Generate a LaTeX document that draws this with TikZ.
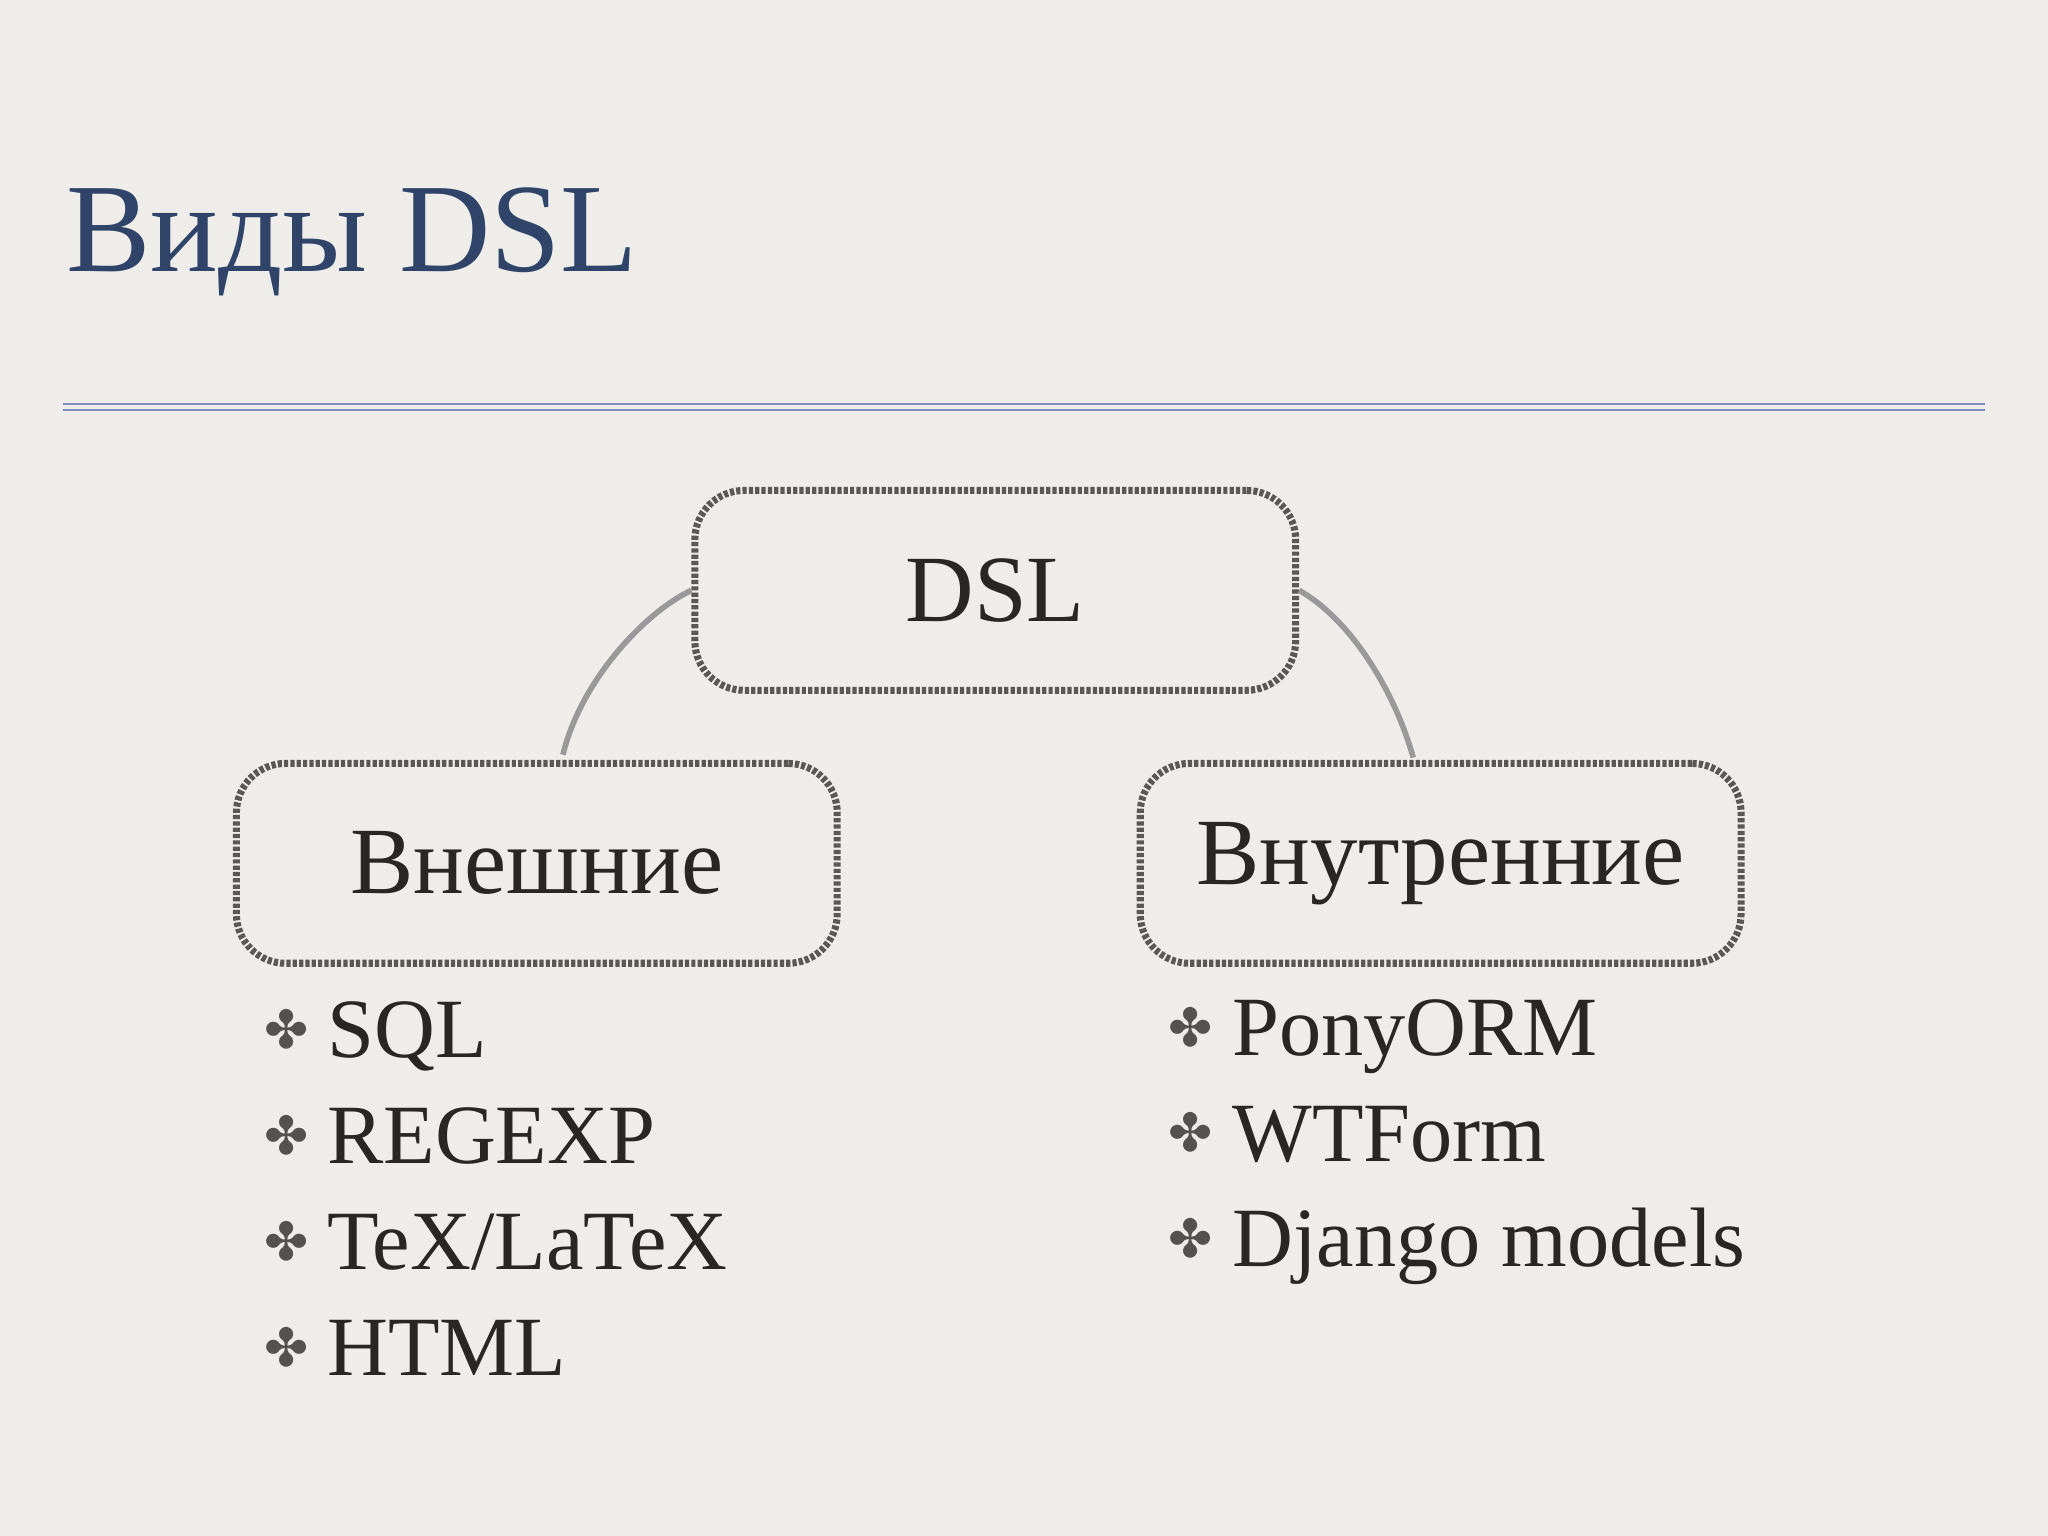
\documentclass[tikz,border=0pt]{standalone}
\usepackage{fontspec}
\setmainfont{Liberation Serif}
\newfontfamily\symfont{DejaVu Sans}
\definecolor{bg}{HTML}{EFEDE9}
\definecolor{titleblue}{HTML}{2F4468}
\definecolor{rule}{HTML}{7D8FC0}
\definecolor{boxline}{HTML}{5A5856}
\definecolor{txt}{HTML}{2A2624}
\begin{document}
\begin{tikzpicture}[x=0.013061cm,y=-0.013061cm,
  box/.style={draw=boxline,line width=2pt,rounded corners=14pt,dash pattern=on 1.2pt off 0.6pt,minimum width=460*0.013061cm,minimum height=153*0.013061cm,inner sep=0pt,font=\fontsize{27}{30}\selectfont,text=txt},
  item/.style={anchor=base west,font=\fontsize{24}{28}\selectfont,text=txt,inner sep=0pt},
  bul/.style={anchor=base east,inner sep=0pt,text=txt!80,font=\symfont\fontsize{15}{18}\selectfont},
  arc/.style={draw=gray!80,line width=1.6pt}]
\fill[bg] (0,0) rectangle (1568,1176);
\useasboundingbox (0,0) rectangle (1568,1176);
\node[anchor=base west,inner sep=0pt,text=titleblue,font=\fontsize{36}{40}\selectfont] (title) at (50,208) {Виды DSL};
\draw[rule,line width=0.6pt] (48,309) -- (1520,309);
\draw[rule,line width=0.6pt] (48,314) -- (1520,314);
\node[box] (dsl) at (762,452) {DSL};
\node[box] (ext) at (411,661) {Внешние};
\node[box] (int) at (1103,661) {Внутренние};
\draw[arc] (ext.north) ++(20,-4) coordinate (a1) (a1) .. controls (445,520) and (495,468) .. (dsl.west);
\draw[arc] (dsl.east) .. controls (1035,475) and (1068,530) .. (1082,580);
\foreach \t [count=\i] in {SQL,REGEXP,TeX/LaTeX,HTML}{
  \node[item] (e\i) at (250,{810+(\i-1)*81}) {\t};
  \node[bul] (eb\i) at (237,{803+(\i-1)*81}) {✤};
}
\foreach \t [count=\i] in {PonyORM,WTForm,Django models}{
  \node[item] (r\i) at (943,{808+(\i-1)*81}) {\t};
  \node[bul] (rb\i) at (929,{801+(\i-1)*81}) {✤};
}
\end{tikzpicture}
\end{document}
